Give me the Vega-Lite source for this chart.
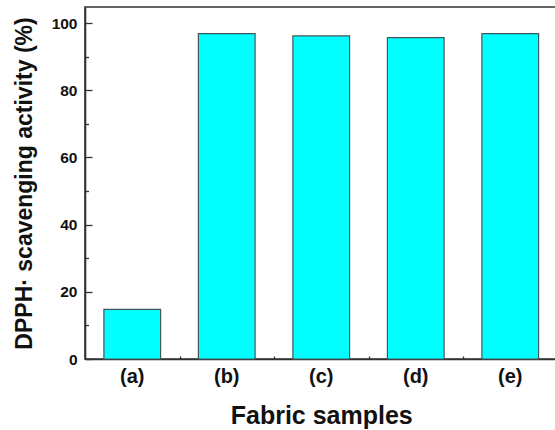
{
  "$schema": "https://vega.github.io/schema/vega-lite/v6.json",
  "width": 472.5,
  "height": 352,
  "autosize": {"type": "none"},
  "padding": {"left": 85, "top": 7, "right": 0, "bottom": 71},
  "background": "#ffffff",
  "view": {"stroke": "#333333", "strokeWidth": 1.6, "fill": null},
  "config": {
    "view": {"stroke": "#333333", "strokeWidth": 1.6},
    "font": "Liberation Sans",
    "axis": {"grid": false, "domain": false, "zindex": 1, "tickColor": "#333333", "tickWidth": 1.3, "labelColor": "#111111", "titleColor": "#111111", "labelFont": "Liberation Sans", "titleFont": "Liberation Sans", "labelFontWeight": "bold", "titleFontWeight": "bold"}
  },
  "data": {
    "values": [
      {"sample": "(a)", "activity": 14.8},
      {"sample": "(b)", "activity": 96.9},
      {"sample": "(c)", "activity": 96.2},
      {"sample": "(d)", "activity": 95.7},
      {"sample": "(e)", "activity": 96.9}
    ]
  },
  "layer": [
    {
      "mark": {"type": "bar", "fill": "#00FFFF", "stroke": "#45575a", "strokeWidth": 1.2},
      "encoding": {
        "x": {
          "field": "sample", "type": "nominal", "sort": null,
          "scale": {"paddingInner": 0.4, "paddingOuter": 0.2},
          "axis": {
            "orient": "bottom", "labelAngle": 0, "tickSize": -6, "labelPadding": 13, "labelFontSize": 20,
            "domain": true, "domainColor": "#333333", "domainWidth": 1.6,
            "title": "Fabric samples", "titleFontSize": 25, "titleY": 64, "titleBaseline": "alphabetic"
          }
        },
        "y": {
          "field": "activity", "type": "quantitative",
          "scale": {"domain": [0, 104.8], "nice": false, "zero": true},
          "axis": {
            "orient": "left", "values": [0, 20, 40, 60, 80, 100], "tickSize": -7, "labelPadding": 15, "labelFontSize": 15.5,
            "domain": true, "domainColor": "#333333", "domainWidth": 1.6,
            "title": "DPPH· scavenging activity (%)", "titleFontSize": 23, "titleAngle": -90,
            "titleX": -61, "titleY": 176, "titleBaseline": "middle", "titleAlign": "center"
          }
        }
      }
    },
    {
      "mark": {"type": "bar", "opacity": 0},
      "encoding": {
        "x": {
          "field": "sample", "type": "nominal", "sort": null,
          "axis": {"orient": "bottom", "labels": false, "title": null, "tickSize": -3, "tickOffset": 47.25}
        },
        "y": {
          "field": "activity", "type": "quantitative",
          "axis": {"orient": "left", "values": [10, 30, 50, 70, 90], "labels": false, "title": null, "tickSize": -3.5}
        }
      }
    }
  ],
  "resolve": {"axis": {"x": "independent", "y": "independent"}}
}
